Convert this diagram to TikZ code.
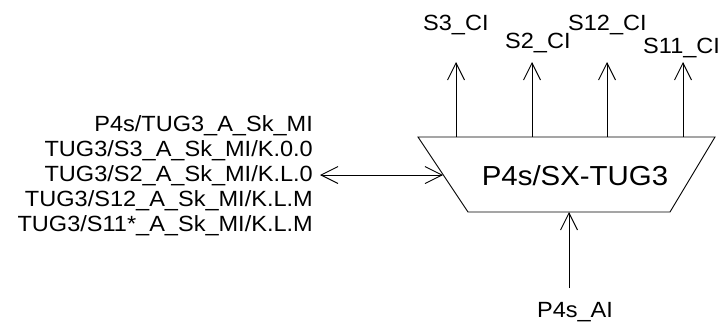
\documentclass[tikz,border=0pt]{standalone}
\usepackage{fontspec}
\setmainfont{Liberation Sans}[FakeStretch=1.07]
\usetikzlibrary{arrows.meta}
\begin{document}
\begin{tikzpicture}[x=1pt,y=-1pt,
  wire/.style={line width=0.9pt},
  tip/.style={-{Straight Barb[length=17pt,width=17pt,line width=0.9pt]}},
  bitip/.style={{Straight Barb[length=17pt,width=17pt,line width=0.9pt]}-{Straight Barb[length=17pt,width=17pt,line width=0.9pt]}},
  lbl/.style={inner sep=0pt,font=\fontsize{22}{25}\selectfont},
  mainlbl/.style={inner sep=0pt,font=\fontsize{27.5}{30}\selectfont}]
\useasboundingbox (0,0) rectangle (721,325);
% trapezoid block
\coordinate (tl) at (418,137);
\coordinate (tr) at (715,137);
\coordinate (br) at (670,212);
\coordinate (bl) at (468,212);
\draw[wire] (tl) -- (tr) -- (br) -- (bl) -- cycle;
\node[mainlbl,anchor=base] (blk) at (575,185) {P4s/SX-TUG3};
% top outputs
\coordinate (o1) at (456,137); \coordinate (e1) at (456,62);
\coordinate (o2) at (532,137); \coordinate (e2) at (532,62);
\coordinate (o3) at (607,137); \coordinate (e3) at (607,62);
\coordinate (o4) at (683,137); \coordinate (e4) at (683,62);
\draw[wire,tip] (o1) -- (e1);
\draw[wire,tip] (o2) -- (e2);
\draw[wire,tip] (o3) -- (e3);
\draw[wire,tip] (o4) -- (e4);
\node[lbl,anchor=base west] (s3) at (423,30) {S3\_CI};
\node[lbl,anchor=base west] (s2) at (505,48) {S2\_CI};
\node[lbl,anchor=base west] (s12) at (568,30) {S12\_CI};
\node[lbl,anchor=base west] (s11) at (643,53) {S11\_CI};
% bottom input
\coordinate (ai) at (569,288);
\coordinate (bin) at (569,212);
\draw[wire,tip] (ai) -- (bin);
\node[lbl,anchor=base] (p4ai) at (575,317) {P4s\_AI};
% left bidirectional
\node[lbl,anchor=base east] (m1) at (313,131) {P4s/TUG3\_A\_Sk\_MI};
\node[lbl,anchor=base east] (m2) at (313,156) {TUG3/S3\_A\_Sk\_MI/K.0.0};
\node[lbl,anchor=base east] (m3) at (313,181) {TUG3/S2\_A\_Sk\_MI/K.L.0};
\node[lbl,anchor=base east] (m4) at (313,206) {TUG3/S12\_A\_Sk\_MI/K.L.M};
\node[lbl,anchor=base east] (m5) at (313,231) {TUG3/S11*\_A\_Sk\_MI/K.L.M};
\coordinate (la) at (320,175);
\coordinate (ra) at (443,175);
\draw[wire,bitip] (la) -- (ra);
\end{tikzpicture}
\end{document}
